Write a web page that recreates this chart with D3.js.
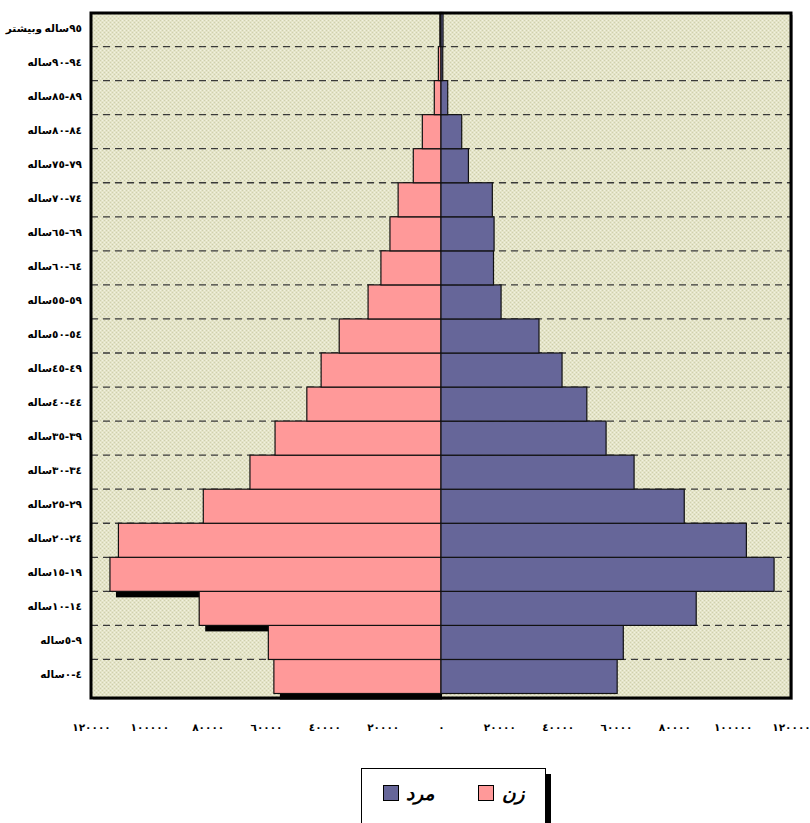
<!DOCTYPE html>
<html><head><meta charset="utf-8">
<script src="https://cdn.jsdelivr.net/npm/d3@7/dist/d3.min.js"></script>
<style>body{margin:0;background:#fff}svg{display:block}</style>
</head><body>
<svg id="c" width="810" height="823"></svg>
<script>
// Arabic-Indic digit helper
const ar = s => s.replace(/[0-9]/g, d => String.fromCharCode(0x0660 + (+d)));
// Age groups, bottom to top
const ageRanges = ["0-4","5-9","10-14","15-19","20-24","25-29","30-34","35-39","40-44","45-49","50-54","55-59","60-64","65-69","70-74","75-79","80-84","85-89","90-94","95"];
const ageWord = "\u0633\u0627\u0644\u0647";           // ساله
const topExtra = "\u0648\u0628\u06CC\u0634\u062A\u0631"; // وبیشتر
const female = [57300,59200,82900,113500,110600,81500,65500,56900,46000,41100,34900,25000,20600,17500,14700,9500,6400,2300,900,400];
const male   = [60400,62500,87500,114200,104700,83400,66200,56600,50000,41500,33600,20600,18000,18200,17600,9400,7100,2300,600,700];
const tickValues = [-120000,-100000,-80000,-60000,-40000,-20000,0,20000,40000,60000,80000,100000,120000];
const tickLabels = ["120000","100000","80000","60000","40000","20000","0","20000","40000","60000","80000","100000","120000"].map(ar);
const legendLabels = {male:"\u0645\u0631\u062F", female:"\u0632\u0646"}; // مرد ، زن
const colors = {male:"#666699", female:"#FF9999"};

const svg = d3.select("#c");
const L = 91, R = 791, T = 13, B = 698;
const x = d3.scaleLinear().domain([-120000,120000]).range([L,R]);
const y = d3.scaleBand().domain(d3.range(ageRanges.length)).range([693.5,12.5]).paddingInner(0).paddingOuter(0);

// pattern background
const defs = svg.append("defs");
const pat = defs.append("pattern").attr("id","bg").attr("patternUnits","userSpaceOnUse").attr("width",4).attr("height",4);
pat.append("rect").attr("width",4).attr("height",4).attr("fill","#e4e4c8");
pat.append("rect").attr("x",0).attr("y",0).attr("width",1).attr("height",1).attr("fill","#cfcfae");
pat.append("rect").attr("x",2).attr("y",2).attr("width",1).attr("height",1).attr("fill","#cfcfae");
pat.append("rect").attr("x",2).attr("y",0).attr("width",1).attr("height",1).attr("fill","#f1f1e0");
pat.append("rect").attr("x",0).attr("y",2).attr("width",1).attr("height",1).attr("fill","#f1f1e0");

svg.append("rect").attr("x",L+2).attr("y",T+2).attr("width",R-L).attr("height",B-T).attr("fill","#bbb");
svg.append("rect").attr("x",L).attr("y",T).attr("width",R-L).attr("height",B-T).attr("fill","url(#bg)");

const bounds = d3.range(1, ageRanges.length).map(i => y(i) + y.bandwidth());
svg.append("g").selectAll("line").data(bounds).join("line")
  .attr("x1",L).attr("x2",R).attr("y1",d=>d).attr("y2",d=>d)
  .attr("stroke","#3a3a3a").attr("stroke-width",1.3).attr("stroke-dasharray","7,5");

const idx = d3.range(ageRanges.length);
svg.append("g").selectAll("rect").data(idx).join("rect")
  .attr("x", i => x(-female[i]) + 6)
  .attr("y", i => y(i) + 6)
  .attr("width", i => Math.max(0, x(0) + 1 - (x(-female[i]) + 6)))
  .attr("height", y.bandwidth())
  .attr("fill","#000");
svg.append("g").selectAll("rect").data(idx).join("rect")
  .attr("x", i => x(-female[i]))
  .attr("y", i => y(i))
  .attr("width", i => x(0) - x(-female[i]))
  .attr("height", y.bandwidth())
  .attr("fill", colors.female).attr("stroke","#111").attr("stroke-width",1.2);
svg.append("g").selectAll("rect").data(idx).join("rect")
  .attr("x", x(0))
  .attr("y", i => y(i))
  .attr("width", i => x(male[i]) - x(0))
  .attr("height", y.bandwidth())
  .attr("fill", colors.male).attr("stroke","#111").attr("stroke-width",1.2);

svg.append("rect").attr("x",L).attr("y",T).attr("width",R-L).attr("height",B-T)
  .attr("fill","none").attr("stroke","#000").attr("stroke-width",3);

// y labels (Persian RTL reading): visual left-to-right = [word][number range]
const gy = svg.append("g");
idx.forEach(i => {
  const parts = (i === ageRanges.length - 1)
    ? [{t: topExtra}, {t: " "}, {t: ageWord}, {t: ar(ageRanges[i]), num: true}]
    : [{t: ageWord}, {t: ar(ageRanges[i]), num: true}];
  let cx = 82;
  const cy = y(i) + y.bandwidth()/2 - 2;
  for (let k = parts.length - 1; k >= 0; k--) {
    const p = parts[k];
    if (p.t === " ") { cx -= 2.5; continue; }
    const t = gy.append("text").attr("x", cx).attr("y", cy)
      .attr("text-anchor","end").attr("dominant-baseline","central")
      .attr("font-family","DejaVu Sans").attr("font-weight","bold").attr("font-size",10.5)
      .attr("fill","#000").text(p.t);
    if (p.num) t.style("direction","ltr").style("unicode-bidi","bidi-override");
    cx -= t.node().getComputedTextLength();
  }
});

const xAxis = d3.axisBottom(x).tickValues(tickValues).tickSize(0).tickFormat((d,i)=>tickLabels[i]);
const gx = svg.append("g").attr("transform",`translate(0,721)`).call(xAxis);
gx.select(".domain").remove();
gx.selectAll("text").attr("font-family","DejaVu Sans").attr("font-weight","bold")
  .attr("font-size",10.5).attr("letter-spacing","2.8px").attr("fill","#000")
  .style("direction","ltr").style("unicode-bidi","bidi-override");

const lg = svg.append("g");
lg.append("rect").attr("x",367).attr("y",774).attr("width",184).attr("height",60).attr("fill","#000");
lg.append("rect").attr("x",361.5).attr("y",768.5).attr("width",184).attr("height",60).attr("fill","#fff").attr("stroke","#000").attr("stroke-width",1);
const items = [{k:"male", sx:383, tx:406},{k:"female", sx:478, tx:502}];
items.forEach(it=>{
  lg.append("rect").attr("x",it.sx+0.5).attr("y",785.5).attr("width",15).attr("height",15)
    .attr("fill",colors[it.k]).attr("stroke","#000").attr("stroke-width",1);
  lg.append("text").attr("x",it.tx).attr("y",800).attr("font-family","DejaVu Sans")
    .attr("font-weight","bold").attr("font-style","italic").attr("font-size",18.5)
    .attr("fill","#000").text(legendLabels[it.k]);
});
</script>
</body></html>
